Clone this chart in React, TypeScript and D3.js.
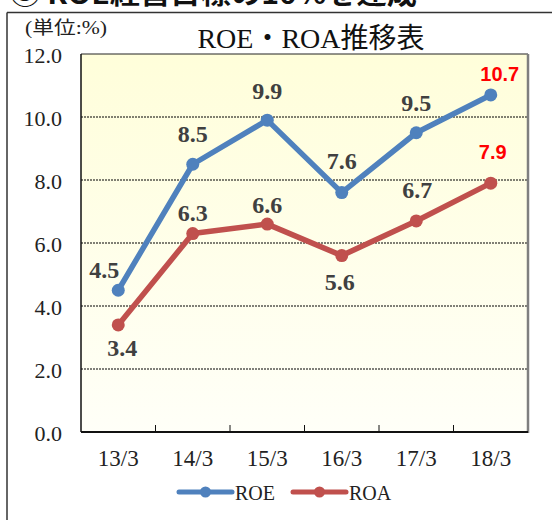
import React from "react";
import * as d3 from "d3";

const categories = ["13/3", "14/3", "15/3", "16/3", "17/3", "18/3"];
const roeValues = [4.5, 8.5, 9.9, 7.6, 9.5, 10.7];
const roaValues = [3.4, 6.3, 6.6, 5.6, 6.7, 7.9];
const yTicks = [0, 2, 4, 6, 8, 10, 12];
const seriesNames = ["ROE", "ROA"];
const titleText = "ROE・ROA推移表";
const unitText = "(単位:%)";
const headerText = "③ ROE経営目標の10%を達成";

// label placement offsets (text centre relative to point), styling only
const roeLabelOffsets = [[-14, -20], [0, -30], [0, -29], [0, -32], [0, -30], [9, -21]];
const roaLabelOffsets = [[4, 23], [0, -21], [0, -19], [-2, 26], [1, -31], [2, -31]];

const W = 552;
const H = 520;
const plot = { left: 81, right: 528, top: 54, bottom: 432 };
const colors = { ROE: "#4F81BD", ROA: "#C0504D" };
const serif = "'Liberation Serif', 'Noto Sans CJK JP', serif";

export default function App() {
  const x = d3.scaleBand<string>().domain(categories).range([plot.left, plot.right]);
  const cx = (c: string) => (x(c) as number) + x.bandwidth() / 2;
  const y = d3.scaleLinear().domain([0, 12]).range([plot.bottom, plot.top]);
  const line = d3
    .line<number>()
    .x((_, i) => cx(categories[i]))
    .y((d) => y(d));

  const series = [
    { name: seriesNames[0], values: roeValues, color: colors.ROE, offsets: roeLabelOffsets },
    { name: seriesNames[1], values: roaValues, color: colors.ROA, offsets: roaLabelOffsets },
  ];

  const boundaries = categories.slice(1).map((c) => x(c) as number);

  return (
    <svg
      width={W}
      height={H}
      style={{ position: "absolute", left: 0, top: 0, background: "#fff" }}
    >
      <defs>
        <linearGradient id="bg" x1="0" y1="0" x2="0" y2="1">
          <stop offset="0%" stopColor="#FFFEDA" />
          <stop offset="100%" stopColor="#FFFFF8" />
        </linearGradient>
      </defs>
      <rect x={0} y={0} width={W} height={H} fill="#fff" />
      {/* header text, cut by the top edge as in the source */}
      <text
        x={10}
        y={4}
        fontFamily="'Noto Sans CJK JP', sans-serif"
        fontWeight="bold"
        fontSize={27}
        textLength={407}
        lengthAdjust="spacingAndGlyphs"
        fill="#111"
      >
        {headerText}
      </text>
      {/* outer frame */}
      <line x1={7} y1={12.5} x2={W} y2={12.5} stroke="#333" strokeWidth={1.5} />
      <line x1={7} y1={12.5} x2={7} y2={H} stroke="#333" strokeWidth={1.5} />

      <text
        x={25}
        y={34}
        fontFamily={serif}
        fontSize={18}
        textLength={82}
        lengthAdjust="spacingAndGlyphs"
        fill="#222"
      >
        {unitText}
      </text>
      <text
        x={311}
        y={48}
        textAnchor="middle"
        fontFamily={serif}
        fontSize={28}
        fill="#111"
      >
        {titleText}
      </text>

      {/* plot area */}
      <rect
        x={plot.left}
        y={plot.top}
        width={plot.right - plot.left}
        height={plot.bottom - plot.top}
        fill="url(#bg)"
      />
      {yTicks
        .filter((t) => t > 0 && t < 12)
        .map((t) => (
          <line
            key={t}
            x1={plot.left}
            x2={plot.right}
            y1={y(t)}
            y2={y(t)}
            stroke="#000"
            strokeWidth={1}
            strokeDasharray="2,1"
          />
        ))}
      <line x1={plot.left} x2={plot.right} y1={plot.top} y2={plot.top} stroke="#222" strokeWidth={1} />
      <line x1={plot.left} x2={plot.left} y1={plot.top} y2={plot.bottom} stroke="#111" strokeWidth={1.5} />
      <line x1={plot.right} x2={plot.right} y1={plot.top} y2={plot.bottom + 1} stroke="#7F7F7F" strokeWidth={2.5} />
      <line x1={plot.left} x2={plot.right} y1={plot.bottom} y2={plot.bottom} stroke="#111" strokeWidth={2} />
      {boundaries.map((b, i) => (
        <line key={i} x1={b} x2={b} y1={plot.bottom} y2={plot.bottom - 7} stroke="#111" strokeWidth={1} />
      ))}

      {yTicks.map((t) => (
        <text
          key={t}
          x={62}
          y={y(t) + 8.5}
          textAnchor="end"
          fontFamily={serif}
          fontSize={22}
          fill="#222"
        >
          {t.toFixed(1)}
        </text>
      ))}
      {categories.map((c) => (
        <text
          key={c}
          x={cx(c)}
          y={466}
          textAnchor="middle"
          fontFamily={serif}
          fontSize={23}
          fill="#222"
        >
          {c}
        </text>
      ))}

      {series.map((s) => (
        <g key={s.name}>
          <path
            d={line(s.values) as string}
            fill="none"
            stroke={s.color}
            strokeWidth={5.5}
            strokeLinejoin="round"
          />
          {s.values.map((v, i) => (
            <circle key={i} cx={cx(categories[i])} cy={y(v)} r={6.5} fill={s.color} />
          ))}
          {s.values.map((v, i) => {
            const last = i === s.values.length - 1;
            const [dx, dy] = s.offsets[i];
            const tx = cx(categories[i]) + dx;
            const ty = y(v) + dy;
            return last ? (
              <text
                key={i}
                x={tx}
                y={ty + 7}
                textAnchor="middle"
                fontFamily="'Liberation Sans', Arial, sans-serif"
                fontWeight="bold"
                fontSize={20}
                fill="#FF0000"
              >
                {v.toFixed(1)}
              </text>
            ) : (
              <text
                key={i}
                x={tx}
                y={ty + 8}
                textAnchor="middle"
                fontFamily={serif}
                fontWeight="bold"
                fontSize={24}
                fill="#404040"
              >
                {v.toFixed(1)}
              </text>
            );
          })}
        </g>
      ))}

      {/* legend */}
      {series.map((s, i) => {
        const x0 = 179 + i * 114;
        return (
          <g key={s.name}>
            <line
              x1={x0}
              x2={x0 + 53}
              y1={492}
              y2={492}
              stroke={s.color}
              strokeWidth={5}
              strokeLinecap="round"
            />
            <circle cx={x0 + 26.5} cy={492} r={5.5} fill={s.color} />
            <text x={x0 + 56} y={500} fontFamily={serif} fontSize={20} fill="#222">
              {s.name}
            </text>
          </g>
        );
      })}
    </svg>
  );
}
